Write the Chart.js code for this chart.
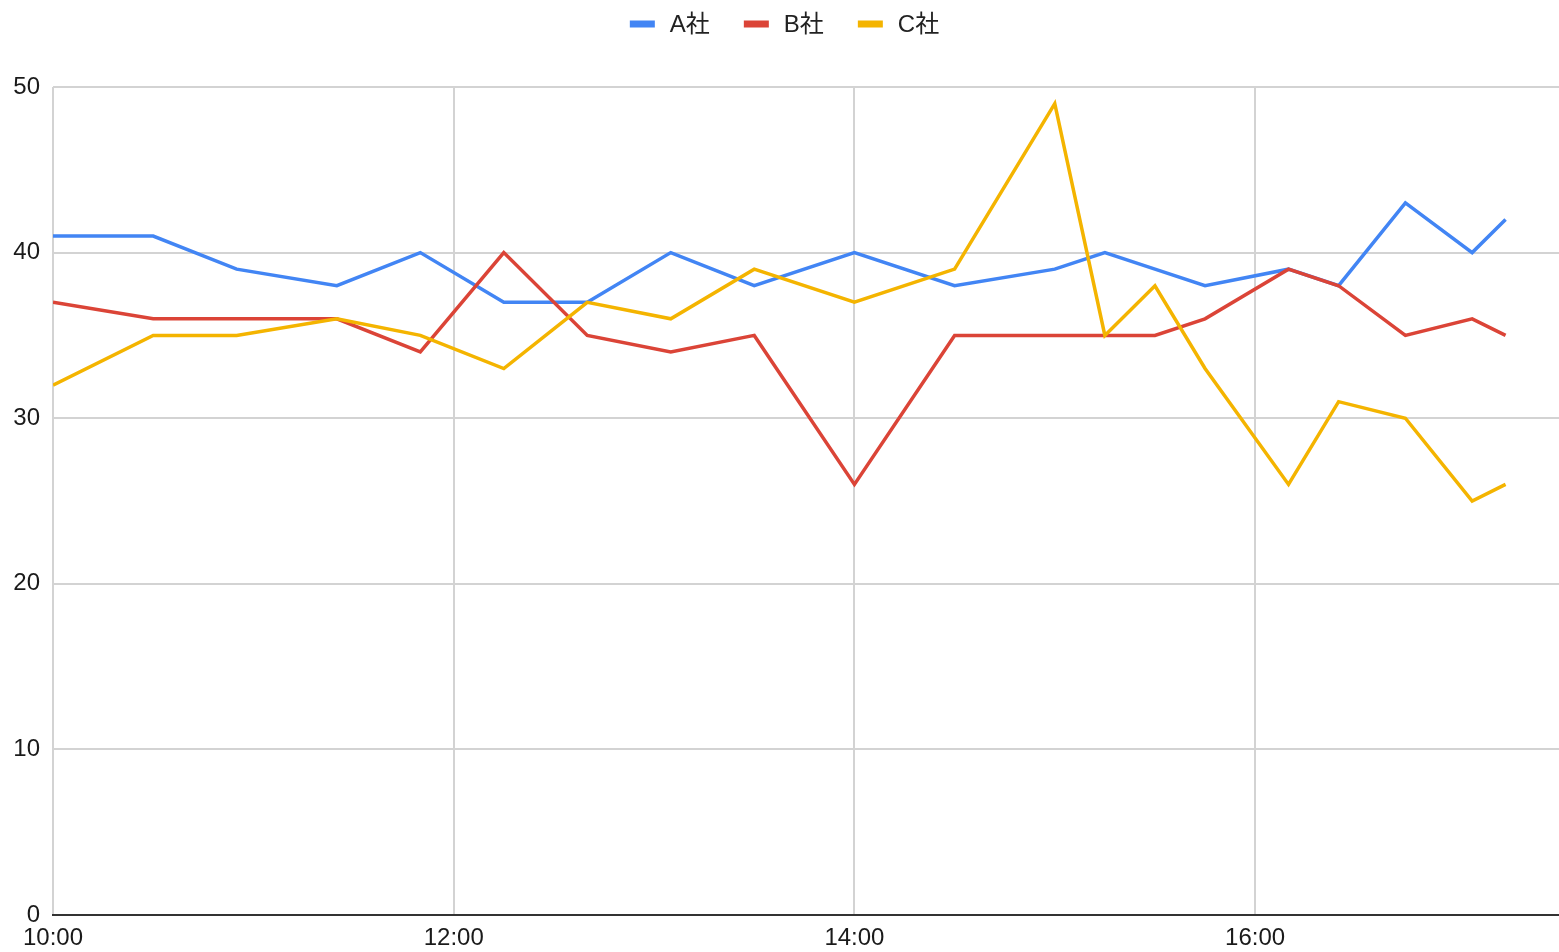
<!DOCTYPE html>
<html>
<head>
<meta charset="utf-8">
<title>A社 B社 C社</title>
<script src="https://cdn.jsdelivr.net/npm/chart.js@4"></script>
<style>
    html, body { margin: 0; padding: 0; background: #fff; }
    #wrap { width: 1559px; height: 952px; position: relative; }
</style>
</head>
<body>
<div id="wrap"><canvas id="lineChart"></canvas></div>
<script>
// Time of each reading
const times = ['10:00', '10:30', '10:55', '11:25', '11:50', '12:15', '12:40', '13:05', '13:30', '14:00',
               '14:30', '15:00', '15:15', '15:30', '15:45', '16:10', '16:25', '16:45', '17:05', '17:15'];

// Series values
const seriesNames = ['A社', 'B社', 'C社'];
const valuesA = [41, 41, 39, 38, 40, 37, 37, 40, 38, 40, 38, 39, 40, 39, 38, 39, 38, 43, 40, 42];
const valuesB = [37, 36, 36, 36, 34, 40, 35, 34, 35, 26, 35, 35, 35, 35, 36, 39, 38, 35, 36, 35];
const valuesC = [32, 35, 35, 36, 35, 33, 37, 36, 39, 37, 39, 49, 35, 38, 33, 26, 31, 30, 25, 26];

// Axis range and tick labels
const xStart = '10:00';
const xEnd = '17:31';
const xTickLabels = ['10:00', '12:00', '14:00', '16:00'];
const yTicks = [0, 10, 20, 30, 40, 50];

const colors = ['#4285F4', '#DB4437', '#F4B400'];
const FONT = '"Liberation Sans", Arial, "Noto Sans CJK JP", sans-serif';

/**
 * "HH:MM" -> minutes since midnight
 */
function toMinutes(t) {
    const parts = t.split(':');
    return parseInt(parts[0], 10) * 60 + parseInt(parts[1], 10);
}

function toLabel(m) {
    const h = Math.floor(m / 60);
    const mm = m % 60;
    return h + ':' + (mm < 10 ? '0' + mm : mm);
}

function buildPoints(values) {
    return times.map((t, i) => ({ x: toMinutes(t), y: values[i] }));
}

const tickMinutes = xTickLabels.map(toMinutes);

/**
 * Legend drawn across the top, Google Sheets style
 */
const topLegend = {
    id: 'topLegend',
    afterDraw(chart) {
        const ctx = chart.ctx;
        const boxW = 25, boxH = 7, gap = 15, spacing = 34;
        ctx.save();
        ctx.font = '24px ' + FONT;
        const items = chart.data.datasets.map(ds => ({
            label: ds.label,
            color: ds.borderColor,
            w: boxW + gap + ctx.measureText(ds.label).width
        }));
        const total = items.reduce((s, it) => s + it.w, 0) + spacing * (items.length - 1);
        let x = chart.width / 2 - total / 2 + 5;
        const y = 24;
        items.forEach(it => {
            ctx.fillStyle = it.color;
            ctx.fillRect(x, y - boxH / 2, boxW, boxH);
            ctx.fillStyle = '#222';
            ctx.textBaseline = 'middle';
            ctx.textAlign = 'left';
            ctx.fillText(it.label, x + boxW + gap, y + 1);
            x += it.w + spacing;
        });
        ctx.restore();
    }
};

const datasets = [valuesA, valuesB, valuesC].map((vals, i) => ({
    label: seriesNames[i],
    data: buildPoints(vals),
    borderColor: colors[i],
    backgroundColor: colors[i],
    borderWidth: 3.5,
    pointRadius: 0,
    tension: 0,
    order: seriesNames.length - 1 - i   // C on top, A at the bottom
}));

const ctx = document.getElementById('lineChart').getContext('2d');
const lineChart = new Chart(ctx, {
    type: 'line',
    data: { datasets: datasets },
    plugins: [topLegend],
    options: {
        responsive: true,
        maintainAspectRatio: false,
        animation: false,
        layout: {
            padding: { top: 87, right: 0, bottom: 0, left: 0 }
        },
        plugins: {
            legend: { display: false },
            tooltip: { enabled: false }
        },
        scales: {
            x: {
                type: 'linear',
                min: toMinutes(xStart),
                max: toMinutes(xEnd),
                afterBuildTicks: function(scale) {
                    scale.ticks = tickMinutes.map(v => ({ value: v }));
                },
                afterFit: function(scale) {
                    scale.height = 37;
                },
                ticks: {
                    padding: 11,
                    maxRotation: 0,
                    autoSkip: false,
                    color: '#1a1a1a',
                    font: { family: FONT, size: 24, lineHeight: 1 },
                    callback: function(value) {
                        return toLabel(value);
                    }
                },
                grid: {
                    color: '#d3d3d3',
                    lineWidth: 2,
                    drawTicks: false
                },
                border: {
                    display: true,
                    color: '#333333',
                    width: 2
                }
            },
            y: {
                min: yTicks[0],
                max: yTicks[yTicks.length - 1],
                afterBuildTicks: function(scale) {
                    scale.ticks = yTicks.map(v => ({ value: v }));
                },
                afterFit: function(scale) {
                    scale.width = 53;
                },
                ticks: {
                    padding: 13,
                    color: '#1a1a1a',
                    font: { family: FONT, size: 24, lineHeight: 1 }
                },
                grid: {
                    color: '#d3d3d3',
                    lineWidth: 2,
                    drawTicks: false
                },
                border: { display: false }
            }
        }
    }
});
</script>
</body>
</html>
